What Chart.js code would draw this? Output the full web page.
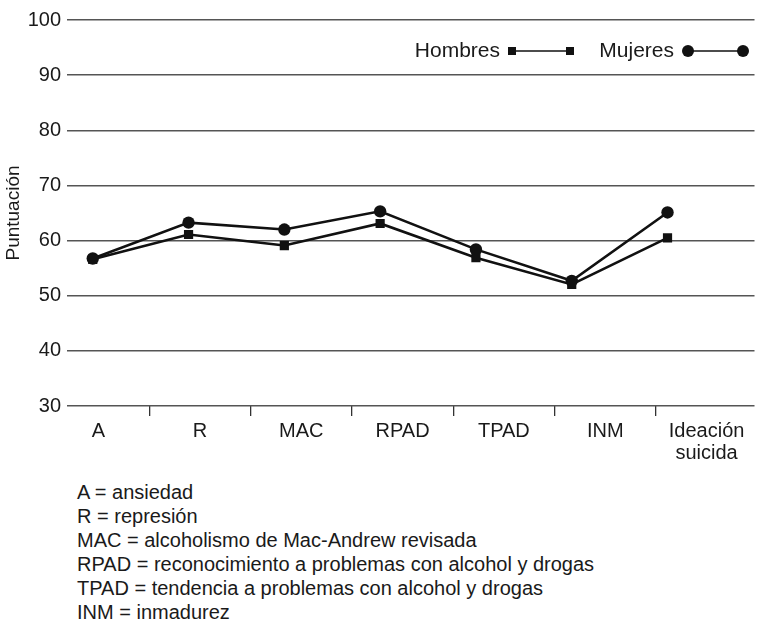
<!DOCTYPE html>
<html>
<head>
<meta charset="utf-8">
<script src="https://cdn.jsdelivr.net/npm/chart.js@4"></script>
<style>
  body { margin: 0; background: #fff; overflow: hidden; }
  #wrap { position: relative; width: 761px; height: 470px; }
  #notes {
    position: absolute; left: 77px; top: 480px;
    font: 20px "Liberation Sans", Arial, sans-serif; color: #1a1a1a; line-height: 24px;
  }
</style>
</head>
<body>
<div id="wrap"><canvas id="chart" width="761" height="470"></canvas></div>
<div id="notes"></div>
<script>
const categories = ["A", "R", "MAC", "RPAD", "TPAD", "INM", ["Ideación", "suicida"]];
const hombres = [56.6, 61.1, 59.1, 63.1, 56.9, 52.05, 60.5];
const mujeres = [56.75, 63.25, 62.0, 65.3, 58.4, 52.7, 65.1];
const yTicks = [30, 40, 50, 60, 70, 80, 90, 100];
const notes = [
  "A = ansiedad",
  "R = represión",
  "MAC = alcoholismo de Mac-Andrew revisada",
  "RPAD = reconocimiento a problemas con alcohol y drogas",
  "TPAD = tendencia a problemas con alcohol y drogas",
  "INM = inmadurez"
];

document.getElementById("notes").innerHTML = notes.map(n => "<div>" + n + "</div>").join("");

const FONT = "'Liberation Sans', Arial, sans-serif";
const ink = "#111";

// legend drawn by hand: label, then a short line with the marker at both ends
const legendPlugin = {
  id: "lineLegend",
  afterDraw(chart) {
    const ctx = chart.ctx;
    const y = 51;
    ctx.save();
    ctx.font = "21px " + FONT;
    ctx.fillStyle = "#1a1a1a";
    ctx.textBaseline = "middle";
    ctx.textAlign = "right";
    ctx.fillText("Hombres", 500, y);
    ctx.fillText("Mujeres", 674, y);
    ctx.strokeStyle = ink;
    ctx.lineWidth = 1.5;
    ctx.beginPath(); ctx.moveTo(512, y); ctx.lineTo(569, y); ctx.stroke();
    ctx.beginPath(); ctx.moveTo(688, y); ctx.lineTo(742, y); ctx.stroke();
    ctx.fillStyle = ink;
    ctx.fillRect(508, y - 4, 8, 8);
    ctx.fillRect(566, y - 4, 8, 8);
    ctx.beginPath(); ctx.arc(688, y, 6, 0, Math.PI * 2); ctx.fill();
    ctx.beginPath(); ctx.arc(743, y, 6, 0, Math.PI * 2); ctx.fill();
    ctx.restore();
  }
};

new Chart(document.getElementById("chart"), {
  type: "line",
  data: {
    datasets: [
      {
        label: "Hombres",
        data: hombres.map((v, i) => ({ x: i, y: v })),
        xAxisID: "x",
        borderColor: ink,
        backgroundColor: ink,
        borderWidth: 2.6,
        pointStyle: "rect",
        pointRadius: 6.5,
        pointBorderWidth: 0,
        tension: 0
      },
      {
        label: "Mujeres",
        data: mujeres.map((v, i) => ({ x: i, y: v })),
        xAxisID: "x",
        borderColor: ink,
        backgroundColor: ink,
        borderWidth: 2.6,
        pointStyle: "circle",
        pointRadius: 6.2,
        pointBorderWidth: 0,
        tension: 0
      }
    ]
  },
  options: {
    responsive: false,
    animation: false,
    layout: { padding: { top: 20, right: 0, bottom: 0, left: 0 } },
    plugins: { legend: { display: false }, tooltip: { enabled: false } },
    scales: {
      // scale that places the points
      x: {
        type: "linear",
        display: false,
        min: -0.2689,
        max: 6.908
      },
      // tick marks between categories
      xMarks: {
        type: "linear",
        position: "bottom",
        weight: 0,
        min: -0.3109,
        max: 6.473,
        afterBuildTicks: s => { s.ticks = categories.slice(1).map((c, i) => ({ value: i + 0.5 })); },
        afterFit: s => { s.height = 10; },
        grid: { drawOnChartArea: false, drawTicks: true, tickLength: 10, color: "#333", lineWidth: 1.3 },
        border: { display: false },
        ticks: { display: false }
      },
      // category labels
      xLabels: {
        type: "linear",
        position: "bottom",
        weight: 1,
        min: -0.3109,
        max: 6.473,
        afterBuildTicks: s => { s.ticks = categories.map((c, i) => ({ value: i })); },
        afterFit: s => { s.height = 54; },
        grid: { display: false },
        border: { display: false },
        ticks: {
          autoSkip: false,
          maxRotation: 0,
          padding: -4,
          color: "#1a1a1a",
          font: { family: FONT, size: 20, lineHeight: 1.1 },
          callback: v => categories[v]
        }
      },
      y: {
        min: 30,
        max: 100,
        afterBuildTicks: s => { s.ticks = yTicks.map(v => ({ value: v })); },
        afterFit: s => { s.width = 67; },
        grid: { color: "#555", lineWidth: 1.5, drawTicks: false },
        border: { display: false },
        ticks: {
          padding: 6,
          color: "#1a1a1a",
          font: { family: FONT, size: 20 }
        },
        title: {
          display: true,
          text: "Puntuación",
          color: "#1a1a1a",
          font: { family: FONT, size: 19 },
          padding: { top: 2, bottom: 0 }
        }
      }
    }
  },
  plugins: [legendPlugin]
});
</script>
</body>
</html>
